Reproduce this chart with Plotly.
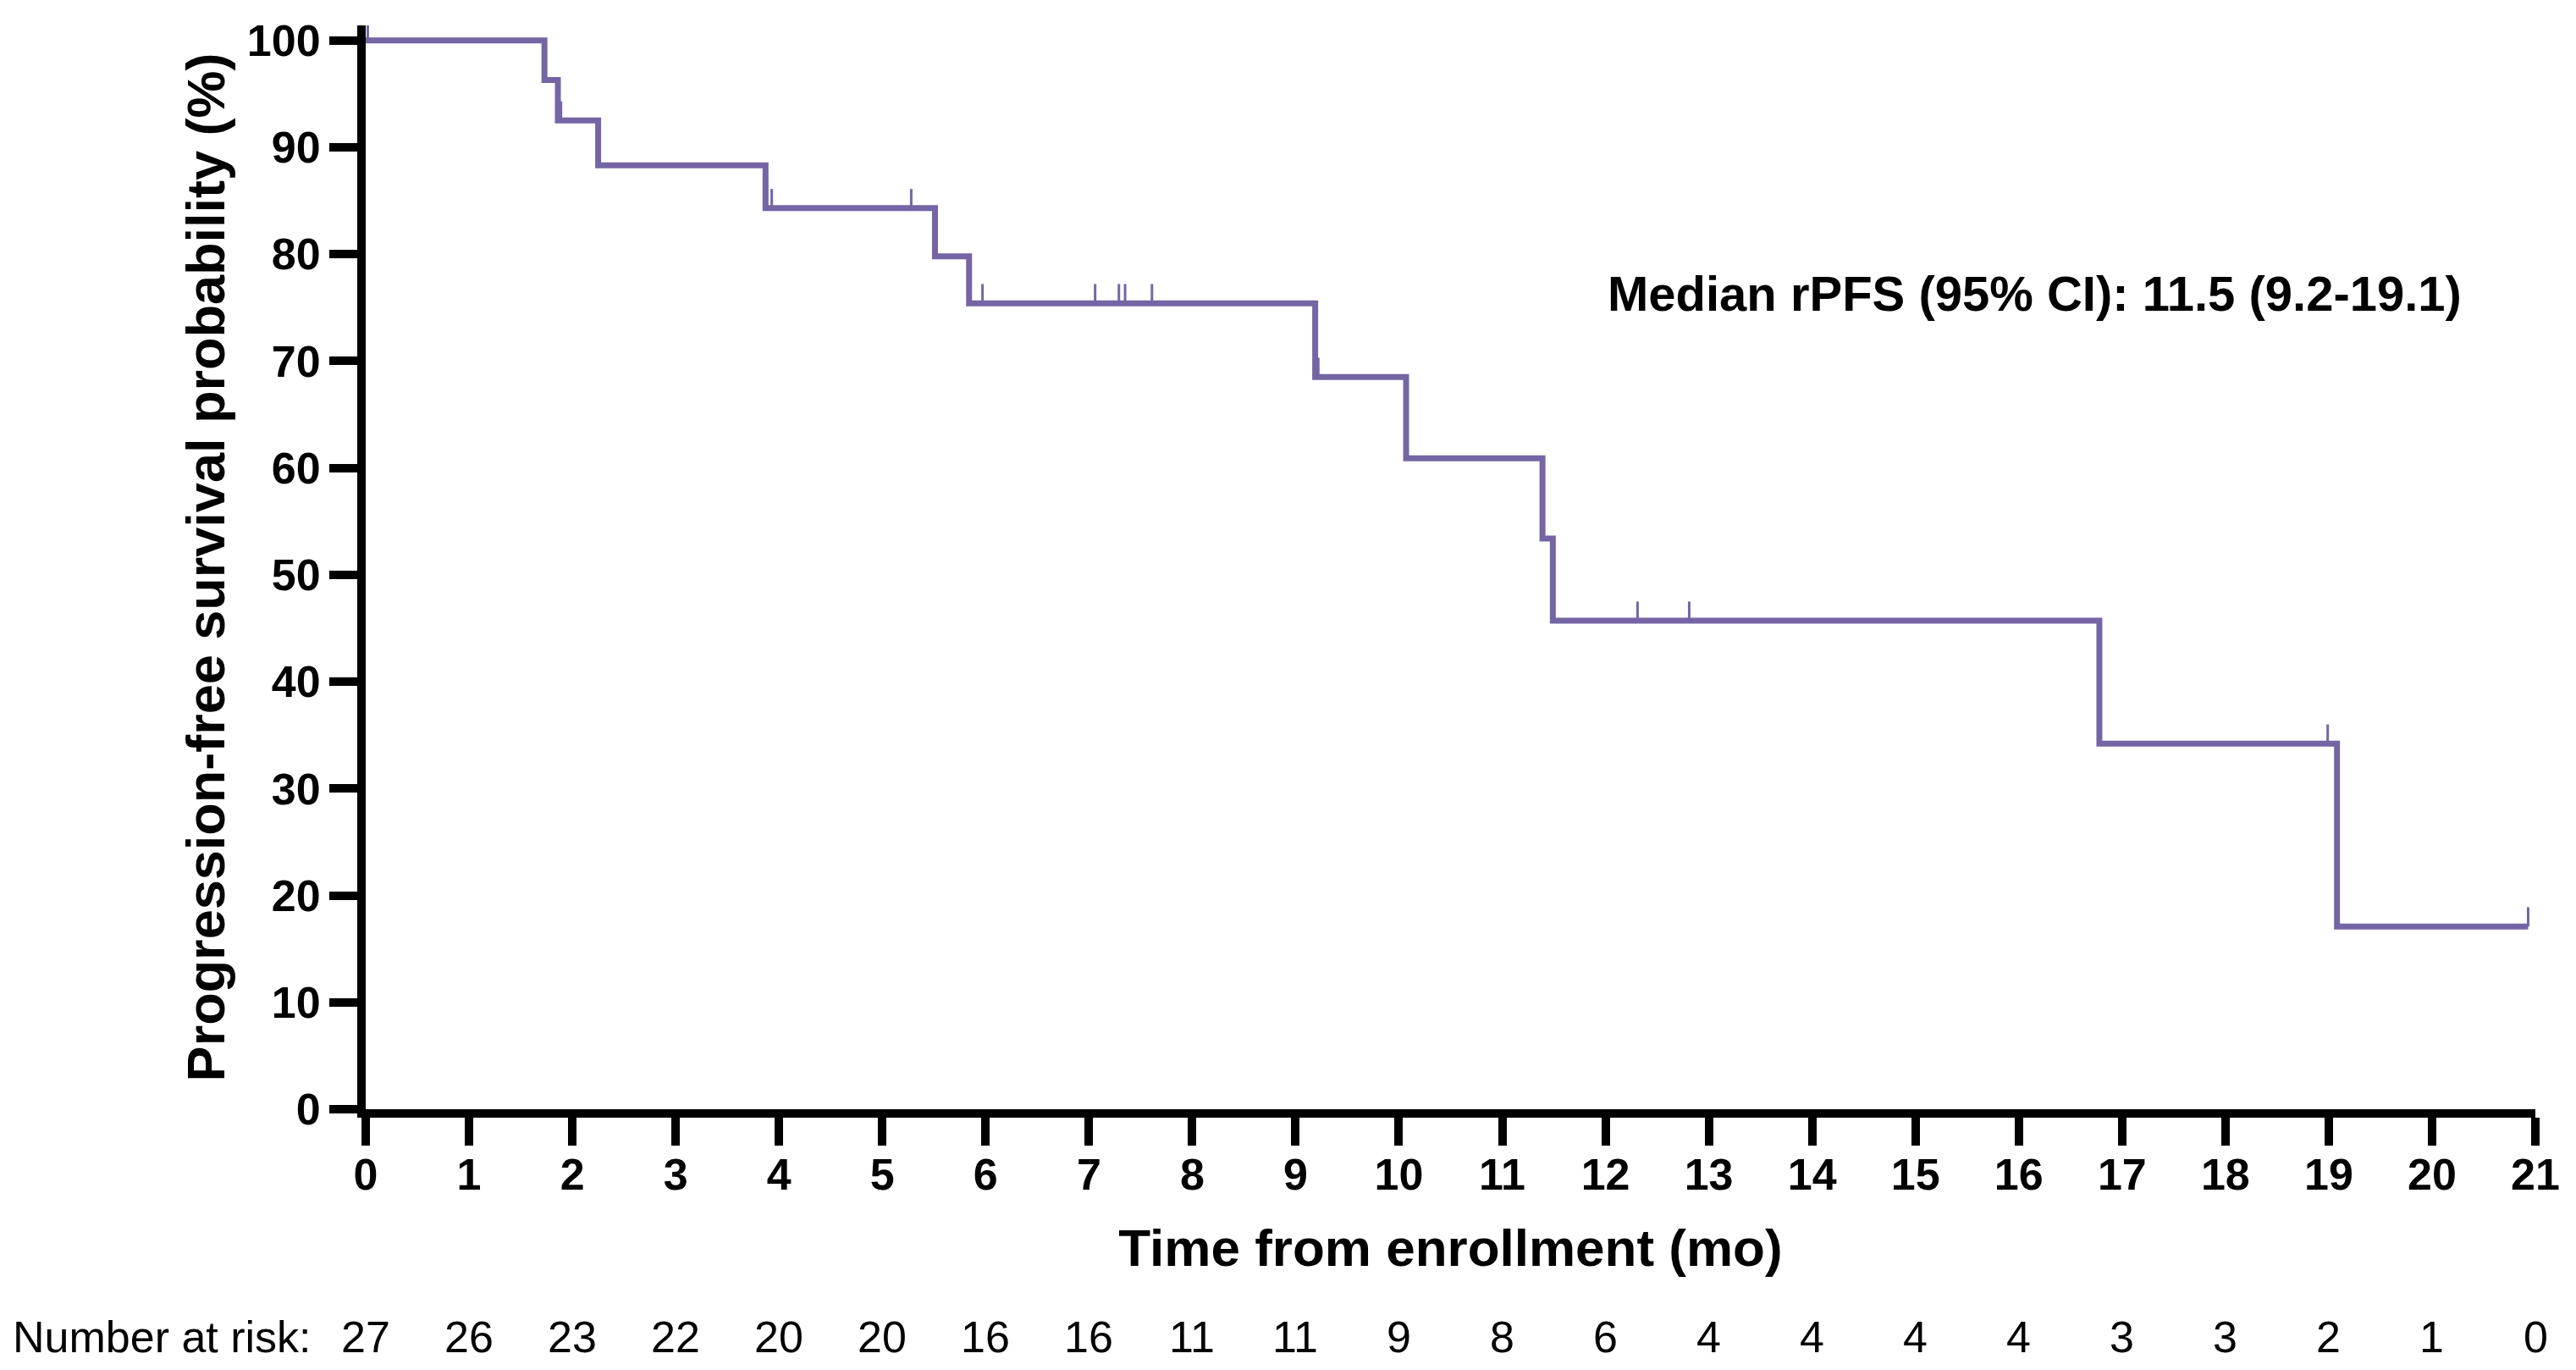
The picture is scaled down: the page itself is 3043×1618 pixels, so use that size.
import plotly.graph_objects as go

# Kaplan-Meier step data (months, % progression-free)
event_months = [0, 1.73, 1.86, 2.25, 3.87, 5.51, 5.84, 9.19, 10.07, 11.39, 11.49, 16.78, 19.08, 20.93]
survival_pct = [100, 96.3, 92.5, 88.3, 84.3, 79.8, 75.4, 68.5, 60.9, 53.4, 45.7, 34.2, 17.1, 17.1]

# censored observations
censor_months = [0.02, 1.89, 3.93, 5.28, 5.97, 7.06, 7.29, 7.35, 7.61, 9.22, 12.31, 12.81, 18.99, 20.93]
censor_pct = [100, 92.5, 84.3, 84.3, 75.4, 75.4, 75.4, 75.4, 75.4, 68.5, 45.7, 45.7, 34.2, 17.1]

month_ticks = list(range(0, 22))
pct_ticks = list(range(0, 101, 10))
at_risk = [27, 26, 23, 22, 20, 20, 16, 16, 11, 11, 9, 8, 6, 4, 4, 4, 4, 3, 3, 2, 1, 0]

median_label = "Median rPFS (95% CI): 11.5 (9.2-19.1)"

PURPLE = "#7565a5"
FONT = "Liberation Sans, Arial, sans-serif"

# page body keeps its default 8px margin, so the figure is 16px smaller than the window
W, H = 3027, 1602
M_L, M_R, M_T, M_B = 424, 28, 11, 300
RISK_ROW_Y = -0.210  # paper units, below the x axis

fig = go.Figure()

fig.add_trace(
    go.Scatter(
        x=event_months,
        y=survival_pct,
        mode="lines",
        line=dict(shape="hv", color=PURPLE, width=7),
        showlegend=False,
        hoverinfo="skip",
    )
)

# censor ticks drawn as one-sided error bars
fig.add_trace(
    go.Scatter(
        x=censor_months,
        y=censor_pct,
        mode="markers",
        marker=dict(size=1, color=PURPLE),
        error_y=dict(type="constant", value=1.8, valueminus=0, symmetric=False,
                     width=0, thickness=3, color=PURPLE),
        cliponaxis=False,
        showlegend=False,
        hoverinfo="skip",
    )
)

axis_common = dict(
    showline=True,
    linewidth=10,
    linecolor="black",
    ticks="outside",
    ticklen=33,
    tickwidth=10,
    tickcolor="black",
    showgrid=False,
    zeroline=False,
    ticklabeloverflow="allow",
    tickfont=dict(family=FONT, size=52, color="black", weight="bold"),
)

fig.update_xaxes(
    range=[0, 21],
    tickvals=month_ticks,
    ticklabelstandoff=-10,
    title=dict(text="Time from enrollment (mo)", standoff=40,
               font=dict(family=FONT, size=62, color="black", weight="bold")),
    **axis_common,
)
fig.update_yaxes(
    range=[0, 101.4],
    tickvals=pct_ticks,
    title=dict(text="Progression-free survival probability (%)", standoff=10,
               font=dict(family=FONT, size=63, color="black", weight="bold")),
    **axis_common,
)

fig.add_annotation(
    x=12.0, y=76.3, xref="x", yref="y",
    text=median_label, showarrow=False,
    xanchor="left", yanchor="middle",
    font=dict(family=FONT, size=58, color="black", weight="bold"),
)

# number at risk row
plot_w = W - M_L - M_R
fig.add_annotation(
    x=(3 - M_L) / plot_w, y=RISK_ROW_Y, xref="paper", yref="paper",
    text="Number at risk:", showarrow=False,
    xanchor="left", yanchor="middle",
    font=dict(family=FONT, size=52, color="black"),
)
for m, n in zip(month_ticks, at_risk):
    fig.add_annotation(
        x=m, y=RISK_ROW_Y, xref="x", yref="paper",
        text=str(n), showarrow=False,
        xanchor="center", yanchor="middle",
        font=dict(family=FONT, size=52, color="black"),
    )

fig.update_layout(
    width=W,
    height=H,
    margin=dict(l=M_L, r=M_R, t=M_T, b=M_B),
    plot_bgcolor="white",
    paper_bgcolor="white",
)

fig.write_html("out.html")
